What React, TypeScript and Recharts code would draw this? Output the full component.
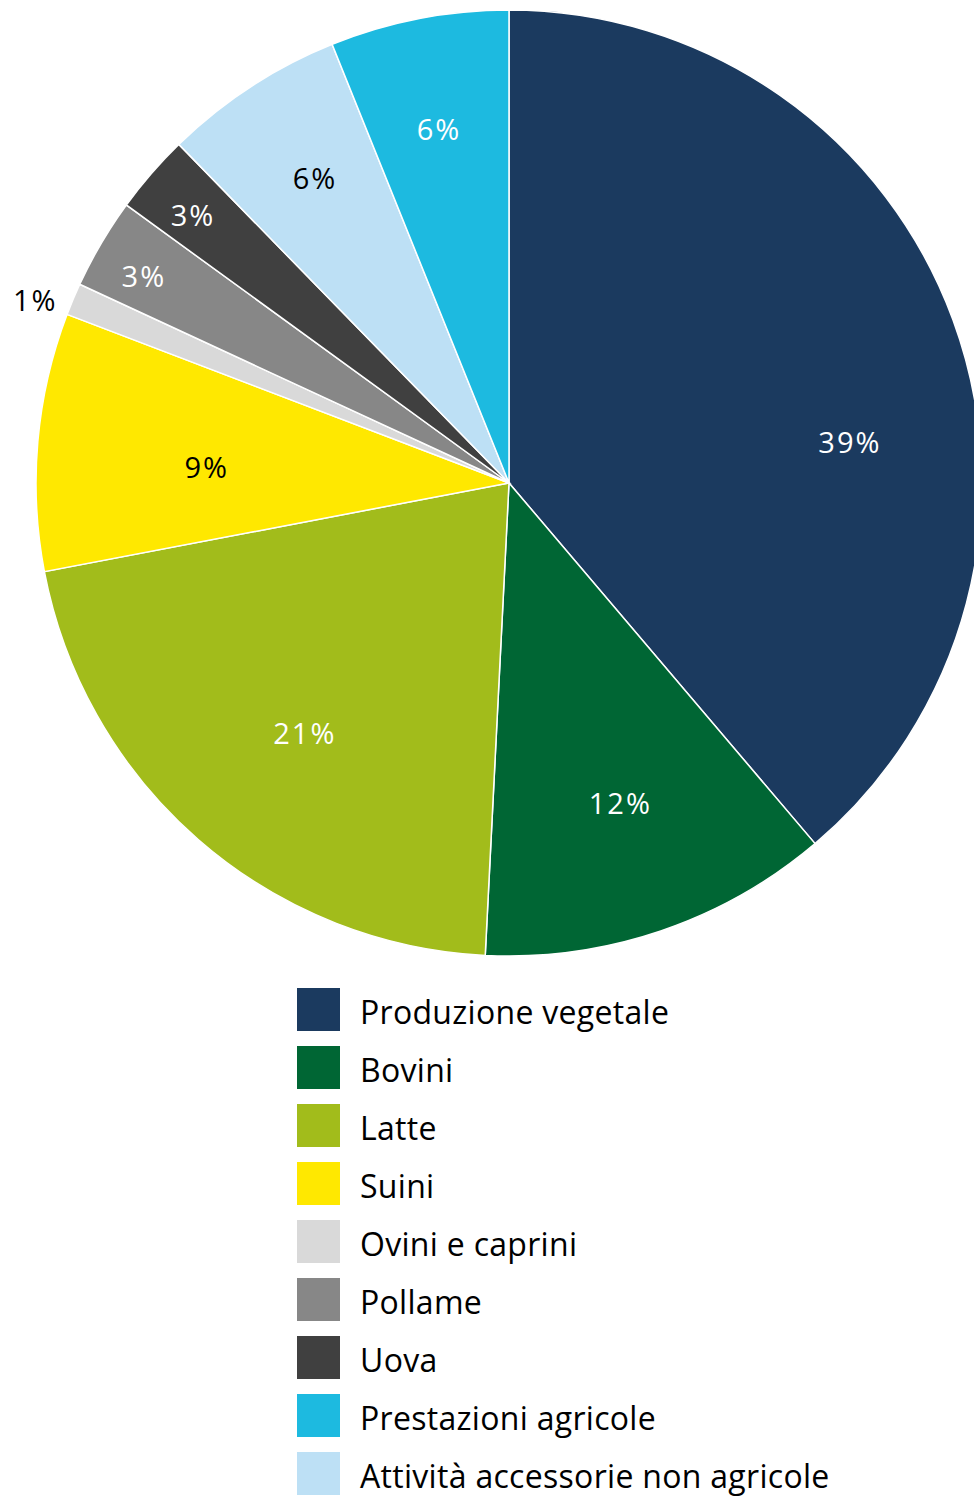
import React from 'react';
import { Cell, Pie, PieChart } from 'recharts';

const CATEGORIES = [
  'Produzione vegetale',
  'Bovini',
  'Latte',
  'Suini',
  'Ovini e caprini',
  'Pollame',
  'Uova',
  'Attività accessorie non agricole',
  'Prestazioni agricole',
];
const SHARES = [38.8, 12.0, 21.2, 8.8, 1.1, 3.1, 2.7, 6.2, 6.1];
const LABELS = ['39%', '12%', '21%', '9%', '1%', '3%', '3%', '6%', '6%'];
const LEGEND_ORDER = [
  'Produzione vegetale',
  'Bovini',
  'Latte',
  'Suini',
  'Ovini e caprini',
  'Pollame',
  'Uova',
  'Prestazioni agricole',
  'Attività accessorie non agricole',
];

const COLORS: Record<string, string> = {
  'Produzione vegetale': '#1b3a5f',
  Bovini: '#006634',
  Latte: '#a2bc1b',
  Suini: '#ffe800',
  'Ovini e caprini': '#d9d9d9',
  Pollame: '#878787',
  Uova: '#404040',
  'Prestazioni agricole': '#1dbae0',
  'Attività accessorie non agricole': '#bde0f5',
};
const DARK_TEXT = new Set(['Suini', 'Ovini e caprini', 'Attività accessorie non agricole']);

// label placement per slice: radius as fraction of outer radius, angle nudge in degrees
const LABEL_RADIUS = [0.726, 0.715, 0.681, 0.64, 1.074, 0.888, 0.877, 0.765, 0.763];
const LABEL_NUDGE = [-13.2, 0.5, 1.7, 2, 1.7, 0.8, 0.5, -0.7, 0.2];

const data = CATEGORIES.map((name, i) => ({ name, value: SHARES[i], label: LABELS[i] }));

const FONT = '"Open Sans", "Noto Sans", sans-serif';
const RAD = Math.PI / 180;

const renderLabel = (props: any) => {
  const { cx, cy, midAngle, outerRadius, payload, percent, index } = props;
  const name = payload.name as string;
  const r = outerRadius * LABEL_RADIUS[index];
  const angle = midAngle + LABEL_NUDGE[index];
  const x = cx + r * Math.cos(-angle * RAD);
  const y = cy + r * Math.sin(-angle * RAD);
  const fill = percent < 0.02 || DARK_TEXT.has(name) ? '#000' : '#fff';
  return (
    <text
      x={x}
      y={y}
      fill={fill}
      textAnchor="middle"
      dominantBaseline="central"
      fontFamily={FONT}
      fontWeight={400}
      fontSize={29}
      letterSpacing={2}
    >
      {payload.label}
    </text>
  );
};

export default function App() {
  return (
    <div style={{ position: 'absolute', left: 0, top: 0, width: 974, height: 1496, background: '#fff', overflow: 'hidden' }}>
      <PieChart width={974} height={970} margin={{ top: 0, right: 0, bottom: 0, left: 0 }}>
        <Pie
          data={data}
          dataKey="value"
          nameKey="name"
          cx={509}
          cy={483}
          outerRadius={473}
          startAngle={90}
          endAngle={-270}
          stroke="#fff"
          strokeWidth={1.5}
          label={renderLabel}
          labelLine={false}
          isAnimationActive={false}
        >
          {data.map((d) => (
            <Cell key={d.name} fill={COLORS[d.name]} />
          ))}
        </Pie>
      </PieChart>
      <div style={{ position: 'absolute', left: 297, top: 988 }}>
        {LEGEND_ORDER.map((name) => (
          <div key={name} style={{ display: 'flex', alignItems: 'center', height: 43, marginBottom: 15 }}>
            <div style={{ width: 43, height: 43, background: COLORS[name] }} />
            <span
              style={{
                marginLeft: 20,
                marginTop: 4,
                fontFamily: FONT,
                fontWeight: 400,
                fontSize: 32,
                letterSpacing: 0.3,
                color: '#000',
                whiteSpace: 'nowrap',
              }}
            >
              {name}
            </span>
          </div>
        ))}
      </div>
    </div>
  );
}
